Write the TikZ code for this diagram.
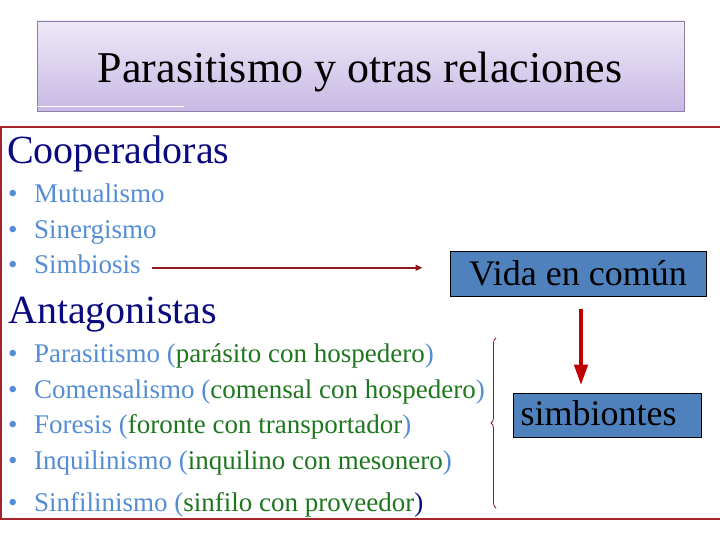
\documentclass[tikz,border=0pt]{standalone}
\usepackage{fontspec}
\setmainfont{LiberationSerif}[Extension=.ttf, UprightFont=*-Regular,
  BoldFont=*-Bold, ItalicFont=*-Italic, BoldItalicFont=*-BoldItalic]
\usetikzlibrary{arrows.meta,decorations.pathreplacing}
\definecolor{navyhead}{RGB}{10,10,128}
\definecolor{itemblue}{RGB}{84,141,212}
\definecolor{relgreen}{RGB}{30,118,30}
\definecolor{boxblue}{RGB}{79,129,189}
\definecolor{framered}{RGB}{165,36,44}
\definecolor{arrowred}{RGB}{192,0,0}
\definecolor{darkred}{RGB}{140,26,26}
\definecolor{lilactop}{RGB}{238,233,248}
\definecolor{lilacbot}{RGB}{200,185,228}
\definecolor{lilacline}{RGB}{140,126,166}
\newcommand{\punto}{\textbullet\hspace{16.5pt}}
\newcommand{\pareja}[1]{(\textcolor{relgreen}{#1})}

\begin{document}
\begin{tikzpicture}[x=1pt, y=-1pt,
  titlebox/.style = {draw=lilacline, top color=lilactop, bottom color=lilacbot,
                     minimum width=647pt, minimum height=90pt, inner sep=0pt},
  heading/.style  = {anchor=base west, inner sep=0pt, text=navyhead,
                     font=\fontsize{40}{46}\selectfont},
  entry/.style    = {anchor=base west, inner sep=0pt, text=itemblue,
                     font=\fontsize{27}{32}\selectfont},
  bluebox/.style  = {draw=black, line width=1pt, fill=boxblue, inner sep=0pt,
                     font=\fontsize{36}{42}\selectfont}]
\useasboundingbox (0,0) rectangle (720,540);

\node [titlebox] (tbox) at (360.5,66) {};
\draw [white, line width=1pt] (37,107) -- (184,107);
\node [anchor=base, inner sep=0pt, font=\fontsize{44}{50}\selectfont] (title) at (360,83)
  {Parasitismo y otras relaciones};

\draw [framered, line width=1.3pt] (722,127) -| (1,519) -- (722,519);

\node [heading] (coop) at (7,164) {Cooperadoras};
\node [entry] (mutual) at (8,203) {\punto Mutualismo};
\node [entry] (siner) at (8,238) {\punto Sinergismo};
\node [entry] (simbio) at (8,273) {\punto Simbiosis};

\node [heading] (antag) at (8,323) {Antagonistas};
\node [entry] (parasit) at (8,362) {\punto Parasitismo \pareja{parásito con hospedero}};
\node [entry] (comens) at (8,398) {\punto Comensalismo \pareja{comensal con hospedero}};
\node [entry] (foresis) at (8,433) {\punto Foresis \pareja{foronte con transportador}};
\node [entry] (inquil) at (8,469) {\punto Inquilinismo \pareja{inquilino con mesonero}};
\node [entry] (sinfil) at (8,511)
  {\punto Sinfilinismo (\textcolor{relgreen}{sinfilo con proveedor}\textcolor{navyhead}{)}};

\node [bluebox, minimum width=256pt, minimum height=45pt] (vida) at (578,273.5) {Vida en común};
\node [bluebox, minimum width=188pt, minimum height=44pt, text width=174pt, align=left,
       inner xsep=7pt] (simbiontes) at (607.5,415) {\raisebox{3pt}{simbiontes}};

\draw [darkred, line width=1.8pt, -{Triangle[length=7pt,width=6pt]}]
  ([xshift=11pt,yshift=-4pt]simbio.east) -- ([xshift=-27pt,yshift=-4pt]vida.west |- simbio.east);
\draw [arrowred, line width=4.5pt, -{Triangle[length=21pt,width=13pt]}]
  ([xshift=3pt,yshift=-12pt]vida.south) -- ([xshift=3pt,yshift=7pt]vida.south |- simbiontes.north);

\draw [darkred, line width=0.8pt, decorate, decoration={brace, amplitude=5pt}]
  (496,508) -- (496,338);
\end{tikzpicture}
\end{document}
